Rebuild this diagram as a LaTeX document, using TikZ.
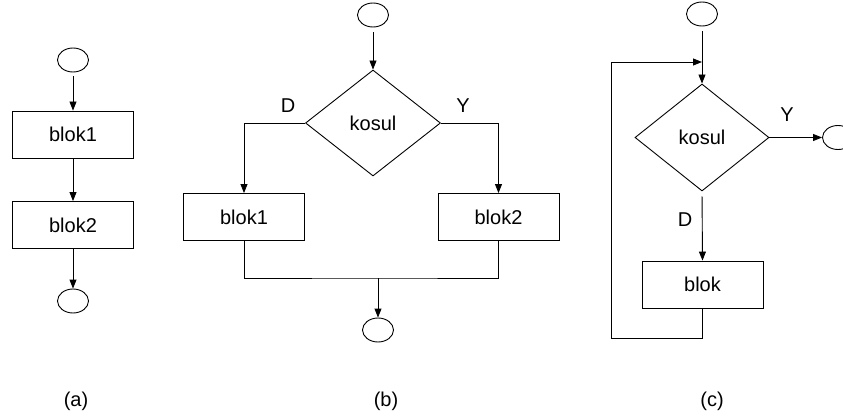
\documentclass[tikz,border=0pt]{standalone}
\usepackage{fontspec}
\setmainfont{Liberation Sans}
\usetikzlibrary{shapes.geometric,arrows.meta}
\begin{document}
\begin{tikzpicture}[x=1pt,y=-1pt,
  font=\fontsize{20}{24}\selectfont,
  line width=0.9pt,
  term/.style={draw,ellipse,minimum width=31pt,minimum height=24pt,inner sep=0pt},
  blk/.style={draw,rectangle,minimum width=121pt,minimum height=47pt,inner sep=0pt},
  cond/.style={draw,diamond,minimum width=135pt,minimum height=106pt,inner sep=0pt},
  arr/.style={-{Triangle[length=9pt,width=7pt]}},
  lbl/.style={inner sep=0pt}]
\clip (0,0) rectangle (843,417);

% (a) sequence
\node[term] (a0) at (73,60) {};
\node[blk]  (a1) at (73,134.5) {blok1};
\node[blk]  (a2) at (73,225) {blok2};
\node[term] (a3) at (73,301) {};
\draw[arr,shorten <=4pt] (a0.south) -- (a1.north);
\draw[arr] (a1.south) -- (a2.north);
\draw[arr] (a2.south) -- (a3.north);
\node[lbl] (la) at (76,401) {(a)};

% (b) selection
\node[term] (b0) at (373,15) {};
\node[cond] (b1) at (373,123) {kosul};
\node[blk]  (b2) at (244,217) {blok1};
\node[blk]  (b3) at (498.5,217) {blok2};
\node[term] (b4) at (378,330) {};
\coordinate (bj) at (378,278);
\draw[arr,shorten <=5pt] (b0.south) -- (b1.north);
\draw[arr] (b1.west) -| (b2.north);
\draw[arr] (b1.east) -| (b3.north);
\draw (b2.south) |- (bj) -| (b3.south);
\draw[arr] (bj) -- (b4.north);
\node[lbl] (bd) at (288,106) {D};
\node[lbl] (by) at (463,106) {Y};
\node[lbl] (lb) at (386,401) {(b)};

% (c) loop
\node[term] (c0) at (702,14) {};
\coordinate (cj) at (702,62);
\node[cond,minimum width=134pt,minimum height=107pt] (c1) at (702,137.5) {kosul};
\node[blk]  (c2) at (702.5,284.5) {blok};
\node[term] (c3) at (838,137.5) {};
\coordinate (cb) at (702.5,338);
\coordinate (ca) at (611,62);
\draw[shorten <=5pt] (c0.south) -- (cj);
\draw[arr] (cj) -- (c1.north);
\draw[arr] (c2.south) -- (cb) -| (ca) -- (cj);
\draw[arr] (c1.east) -- (c3.west);
\draw[arr,shorten <=5pt] (c1.south) -- (c2.north);
\node[lbl] (cy) at (787,115) {Y};
\node[lbl] (cd) at (685,220) {D};
\node[lbl] (lc) at (712,401) {(c)};
\end{tikzpicture}
\end{document}
